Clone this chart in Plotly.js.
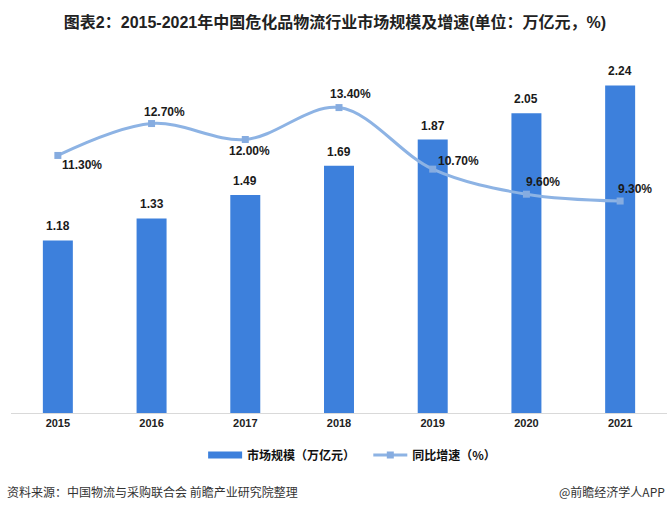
<!DOCTYPE html>
<html><head><meta charset="utf-8">
<script src="https://cdn.plot.ly/plotly-3.0.1.min.js"></script>
<style>body{margin:0;padding:0;background:#fff}#chart{width:670px;height:511px}</style>
</head><body><div id="chart"></div>
<script>
const years = ['2015','2016','2017','2018','2019','2020','2021'];
const marketSize = [1.18, 1.33, 1.49, 1.69, 1.87, 2.05, 2.24];
const growthRate = [11.3, 12.7, 12.0, 13.4, 10.7, 9.6, 9.3];
const growthLabels = ['11.30%','12.70%','12.00%','13.40%','10.70%','9.60%','9.30%'];
const growthOffsets = [[24,-10],[13,12],[4,-12],[11,14],[26,8],[17,12],[15,12]];

const FONT = '"Liberation Sans", Arial, "Noto Sans CJK SC", sans-serif';
const CJK = '"Noto Sans CJK SC", sans-serif';
const barColor = '#3d80dc';
const lineColor = '#8db3e4';

const annotations = [];
years.forEach((y,i)=>{
  annotations.push({x:i, y:marketSize[i], xref:'x', yref:'y', text:marketSize[i].toFixed(2),
    showarrow:false, yanchor:'bottom', yshift:5, font:{family:FONT,size:12,color:'#1a1a1a',weight:'bold'}});
  annotations.push({x:i, y:growthRate[i], xref:'x', yref:'y2', text:growthLabels[i],
    showarrow:false, xshift:growthOffsets[i][0], yshift:growthOffsets[i][1], font:{family:FONT,size:12,color:'#1a1a1a',weight:'bold'}});
});
annotations.push({xref:'paper', yref:'paper', x:-0.009, xanchor:'left', y:-0.223, yanchor:'middle', showarrow:false,
  text:'资料来源：中国物流与采购联合会 前瞻产业研究院整理', font:{family:CJK, size:12, color:'#333'}});
annotations.push({xref:'paper', yref:'paper', x:1.0, xanchor:'right', y:-0.223, yanchor:'middle', showarrow:false,
  text:'@前瞻经济学人APP', font:{family:CJK, size:12, color:'#333'}});

const traces = [
  {type:'bar', x:years, y:marketSize, name:'市场规模（万亿元）', marker:{color:barColor}, width:0.32, hoverinfo:'none', showlegend:false},
  {type:'scatter', mode:'lines', x:[null], y:[null], name:'市场规模（万亿元）&nbsp;&nbsp;&nbsp;', line:{color:barColor, width:7}, hoverinfo:'none'},
  {type:'scatter', mode:'lines+markers', x:years, y:growthRate, yaxis:'y2', name:'同比增速（%）',
   line:{color:lineColor, width:3, shape:'spline', smoothing:1}, marker:{symbol:'square', size:7, color:'#86ace0'}, hoverinfo:'none'}
];

const layout = {
  width:670, height:511,
  margin:{l:11, r:3, t:61.6, b:98},
  paper_bgcolor:'#fff', plot_bgcolor:'#fff',
  title:{text:'图表2：2015-2021年中国危化品物流行业市场规模及增速(单位：万亿元，%)', x:0.5, xanchor:'center',
    y:1-22/511, yanchor:'middle', font:{family:FONT, size:16, color:'#222', weight:'bold'}},
  xaxis:{type:'category', categoryarray:years, showgrid:false, showline:true, linecolor:'#d9d9d9', linewidth:1, ticks:'',
    tickfont:{family:FONT, size:11, color:'#222', weight:'bold'}},
  yaxis:{range:[0,2.4], visible:false, showgrid:false, zeroline:false},
  yaxis2:{range:[0,15.4], overlaying:'y', side:'right', visible:false, showgrid:false, zeroline:false},
  showlegend:true,
  legend:{orientation:'h', x:0.52, xanchor:'center', y:-0.12, yanchor:'middle', font:{family:CJK, size:12, color:'#111', weight:'bold'}, itemwidth:34, traceorder:'normal'},
  annotations:annotations
};
Plotly.newPlot('chart', traces, layout, {staticPlot:true, displayModeBar:false});
</script></body></html>
